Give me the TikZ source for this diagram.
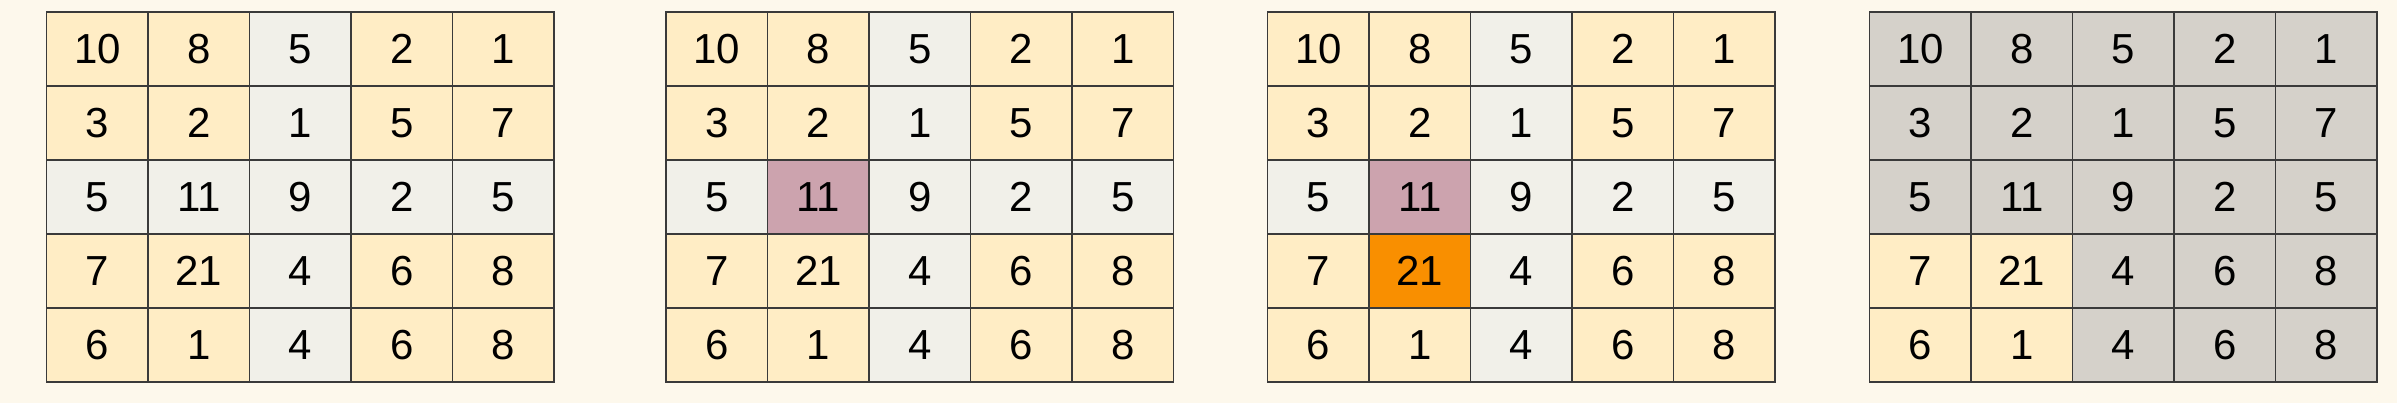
\documentclass[tikz,border=0pt]{standalone}
\usepackage{fontspec}
\setmainfont{Liberation Sans}
\definecolor{bg}{HTML}{FDF8EC}
\definecolor{yel}{HTML}{FFEDC5}
\definecolor{lgr}{HTML}{F1F0E9}
\definecolor{dgr}{HTML}{D5D1CA}
\definecolor{mauve}{HTML}{CCA3AE}
\definecolor{orng}{HTML}{F98F00}
\definecolor{lineC}{HTML}{3A3A3A}
\begin{document}
\begin{tikzpicture}[x=1pt,y=-1pt,
  cell/.style={draw=lineC, line width=1.5pt, minimum width=101.5pt, minimum height=74pt,
    inner sep=0pt, font=\fontsize{42}{50}\selectfont, text=black}]
\fill[bg] (0,0) rectangle (2397,403);
\useasboundingbox (0,0) rectangle (2397,403);
\foreach \g/\gx in {1/46.7,2/666.2,3/1267.7,4/1869.7}{
  \foreach \r/\rowvals in {1/{10,8,5,2,1},2/{3,2,1,5,7},3/{5,11,9,2,5},4/{7,21,4,6,8},5/{6,1,4,6,8}}{
    \foreach \v [count=\c] in \rowvals {
      \def\cc{yel}
      \ifnum\r=3 \def\cc{lgr}\fi
      \ifnum\c=3 \def\cc{lgr}\fi
      \ifnum\g>1 \ifnum\g<4
        \ifnum\r=3 \ifnum\c=2 \def\cc{mauve}\fi\fi
      \fi\fi
      \ifnum\g=3 \ifnum\r=4 \ifnum\c=2 \def\cc{orng}\fi\fi\fi
      \ifnum\g=4
        \def\cc{dgr}
        \ifnum\r>3 \ifnum\c<3 \def\cc{yel}\fi\fi
      \fi
      \node[cell, fill=\cc] (g\g r\r c\c) at ({\gx+(\c-0.5)*101.5},{12+(\r-0.5)*74}) {\v};
    }
  }
}
\end{tikzpicture}
\end{document}
